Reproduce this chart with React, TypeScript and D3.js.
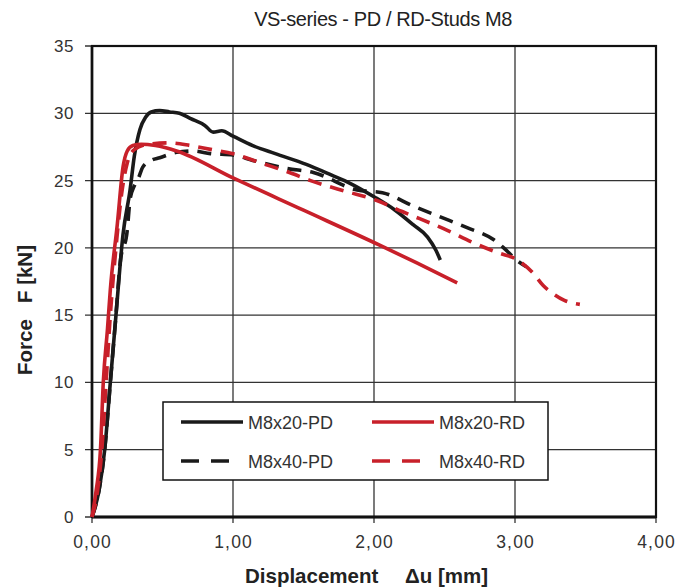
import React from "react";
import * as d3 from "d3";

const xTicks = [0, 1, 2, 3, 4];
const yTicks = [0, 5, 10, 15, 20, 25, 30, 35];

const pd20U = [0, 0.05, 0.09, 0.13, 0.17, 0.22, 0.27, 0.30, 0.34, 0.38, 0.42, 0.48, 0.55, 0.62, 0.70, 0.80, 0.86, 0.92, 1.00, 1.14, 1.30, 1.52, 1.70, 1.83, 2.00, 2.15, 2.28, 2.38, 2.44, 2.47];
const pd20F = [0, 2, 5, 10, 15, 21, 24.3, 26.8, 28.8, 29.7, 30.1, 30.2, 30.1, 30.0, 29.6, 29.1, 28.6, 28.7, 28.3, 27.6, 27.0, 26.2, 25.4, 24.8, 23.8, 22.8, 21.7, 20.8, 19.8, 19.1];

const pd40U = [0, 0.05, 0.09, 0.13, 0.17, 0.20, 0.25, 0.27, 0.30, 0.33, 0.36, 0.42, 0.48, 0.60, 0.72, 0.84, 1.00, 1.14, 1.38, 1.57, 1.88, 2.06, 2.28, 2.47, 2.66, 2.85, 2.92, 3.01, 3.08];
const pd40F = [0, 2, 5, 10, 15, 18.9, 21.3, 23.6, 24.6, 25.2, 26.0, 26.5, 26.7, 27.1, 27.2, 27.0, 26.9, 26.5, 25.9, 25.6, 24.3, 24.1, 23.1, 22.3, 21.5, 20.6, 20.0, 19.1, 18.6];

const rd20U = [0, 0.03, 0.06, 0.08, 0.11, 0.13, 0.18, 0.22, 0.25, 0.29, 0.35, 0.45, 0.60, 1.00, 1.50, 2.04, 2.30, 2.59];
const rd20F = [0, 2, 5, 10, 14, 16.9, 21.8, 26.0, 27.2, 27.6, 27.7, 27.6, 27.2, 25.2, 22.8, 20.2, 18.9, 17.4];

const rd40U = [0, 0.04, 0.07, 0.10, 0.13, 0.17, 0.21, 0.25, 0.30, 0.40, 0.55, 0.70, 0.85, 1.00, 1.20, 1.40, 1.55, 1.80, 2.00, 2.20, 2.52, 2.70, 2.89, 3.00, 3.13, 3.20, 3.27, 3.35, 3.46];
const rd40F = [0, 2, 5, 10, 15, 20, 24, 26.3, 27.3, 27.7, 27.8, 27.6, 27.3, 27.0, 26.3, 25.6, 25.0, 24.2, 23.6, 22.7, 21.3, 20.4, 19.6, 19.2, 18.1, 17.2, 16.6, 16.1, 15.8];

const BLACK = "#1a1a1a";
const RED = "#c8202a";

const series = [
  { name: "M8x20-PD", u: pd20U, f: pd20F, color: BLACK, dash: "" },
  { name: "M8x40-PD", u: pd40U, f: pd40F, color: BLACK, dash: "14,9" },
  { name: "M8x20-RD", u: rd20U, f: rd20F, color: RED, dash: "" },
  { name: "M8x40-RD", u: rd40U, f: rd40F, color: RED, dash: "14,9" },
];

export default function App() {
  const W = 682, H = 587;
  const left = 92, right = 656, top = 46, bottom = 517;
  const x = d3.scaleLinear().domain([0, 4]).range([left, right]);
  const y = d3.scaleLinear().domain([0, 35]).range([bottom, top]);
  const line = d3.line<[number, number]>().x(d => x(d[0])).y(d => y(d[1])).curve(d3.curveMonotoneX);
  const font = "'Liberation Sans', Arial, sans-serif";
  const fmt = (v: number) => v.toFixed(2).replace(".", ",");
  const drawOrder = [1, 0, 3, 2];

  const legendItems = [
    { s: series[0], lx: 181, ly: 422 },
    { s: series[2], lx: 372, ly: 422 },
    { s: series[1], lx: 181, ly: 461 },
    { s: series[3], lx: 372, ly: 461 },
  ];

  return (
    <svg width={W} height={H} style={{ position: "absolute", left: 0, top: 0, background: "#fff" }} fontFamily={font}>
      <rect x={0} y={0} width={W} height={H} fill="#fff" />
      <text x={383} y={26} textAnchor="middle" fontSize={20} letterSpacing={-0.4} fill="#222">VS-series - PD / RD-Studs M8</text>
      {xTicks.map(t => (
        <g key={"x" + t}>
          <line x1={x(t)} x2={x(t)} y1={top} y2={bottom + 6} stroke="#333" strokeWidth={1.3} />
          <text x={x(t) + 0.6} y={548} textAnchor="middle" fontSize={17.5} letterSpacing={1.2} fill="#333">{fmt(t)}</text>
        </g>
      ))}
      {yTicks.map(t => (
        <g key={"y" + t}>
          <line x1={left - 7} x2={right} y1={y(t)} y2={y(t)} stroke="#333" strokeWidth={1.3} />
          <text x={74} y={y(t) + 6} textAnchor="end" fontSize={17} letterSpacing={0.5} fill="#333">{t}</text>
        </g>
      ))}
      <rect x={left} y={top} width={right - left} height={bottom - top} fill="none" stroke="#111" strokeWidth={2.2} />
      <line x1={left} x2={right} y1={bottom} y2={bottom} stroke="#111" strokeWidth={3} />
      <line x1={left} x2={left} y1={top} y2={bottom} stroke="#111" strokeWidth={2.6} />
      {drawOrder.map(i => {
        const s = series[i];
        const pts = s.u.map((u, k) => [u, s.f[k]] as [number, number]);
        return (
          <path key={s.name} d={line(pts) || ""} fill="none" stroke={s.color} strokeWidth={3.6}
            strokeDasharray={s.dash || undefined} strokeLinejoin="round" />
        );
      })}
      <rect x={163} y={402} width={385} height={78} fill="#fff" stroke="#111" strokeWidth={1.5} />
      {legendItems.map(({ s, lx, ly }) => (
        <g key={"l" + s.name}>
          <line x1={lx} x2={lx + (s.dash ? 48 : 62)} y1={ly} y2={ly} stroke={s.color} strokeWidth={3.6}
            strokeDasharray={s.dash ? "18,12" : undefined} />
          <text x={lx + 67} y={ly + 6.5} fontSize={18} fill="#333">{s.name}</text>
        </g>
      ))}
      <text transform="translate(32,375) rotate(-90)" textAnchor="start" fontSize={20.5} fontWeight="bold" fill="#222">Force</text>
      <text transform="translate(32,245) rotate(-90)" textAnchor="end" fontSize={20.5} fontWeight="bold" fill="#222">F [kN]</text>
      <text x={245} y={583} textAnchor="start" fontSize={20.5} fontWeight="bold" fill="#222">Displacement</text>
      <text x={488} y={583} textAnchor="end" fontSize={20.5} fontWeight="bold" fill="#222">Δu [mm]</text>
    </svg>
  );
}
